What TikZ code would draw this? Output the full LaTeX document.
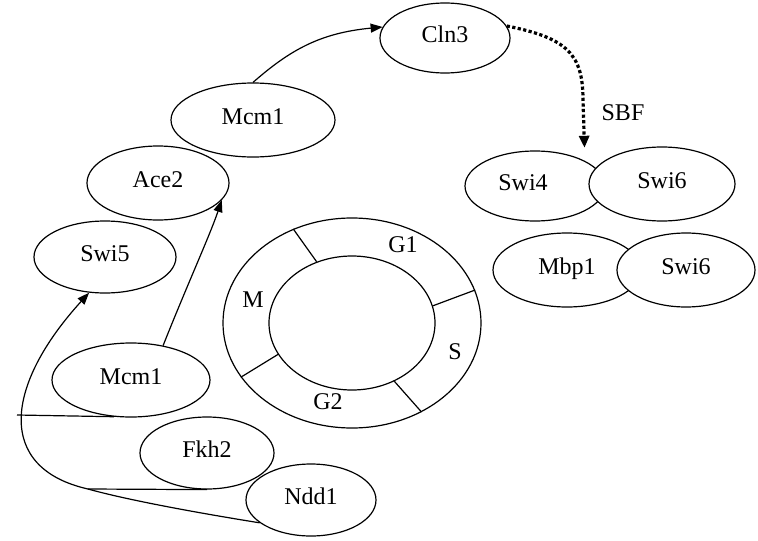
\documentclass[tikz,border=0pt]{standalone}
\usepackage{fontspec}
\setmainfont{Liberation Serif}
\usetikzlibrary{shapes.geometric,arrows.meta}
\begin{document}
\begin{tikzpicture}[x=1pt,y=-1pt,
  ent/.style={draw, ellipse, line width=1.2pt, inner sep=0pt, fill=white,
    text depth=7pt, font=\rmfamily\fontsize{24}{28}\selectfont},
  ring/.style={draw, ellipse, line width=1.2pt, inner sep=0pt},
  lbl/.style={font=\rmfamily\fontsize{24}{28}\selectfont, inner sep=0pt},
  arr/.style={line width=1.2pt, -{Triangle[length=12pt,width=9pt]}},
  dotarr/.style={line width=3.2pt, dash pattern=on 3.2pt off 2.4pt,
    -{Triangle[length=12pt,width=10pt]}},
  plain/.style={line width=1.2pt}]
\useasboundingbox (0,0) rectangle (758,541);

% cell cycle ring
\node[ring, minimum width=258pt, minimum height=210pt] (rout) at (352,323) {};
\node[ring, minimum width=166pt, minimum height=134pt] (rin) at (352,323) {};
\draw[plain] (rout.122) -- (rin.120);
\draw[plain] (rout.15) -- (rin.12);
\draw[plain] (rout.206) -- (rin.203);
\draw[plain] (rout.308) -- (rin.306);
\node[lbl] (g1) at (403,245) {G1};
\node[lbl] (m) at (253,300) {M};
\node[lbl] (s) at (455,352) {S};
\node[lbl] (g2) at (328,402) {G2};

% proteins
\node[ent, minimum width=130pt, minimum height=70pt] (cln) at (445,38) {Cln3};
\node[ent, minimum width=164pt, minimum height=74pt] (mcmA) at (253,120) {Mcm1};
\node[ent, minimum width=142pt, minimum height=74pt] (ace) at (158,183) {Ace2};
\node[ent, minimum width=142pt, minimum height=72pt] (swi5) at (105,257) {Swi5};
\node[ent, minimum width=158pt, minimum height=74pt] (mcmB) at (131,380) {Mcm1};
\node[ent, minimum width=134pt, minimum height=72pt] (fkh) at (207,453) {Fkh2};
\node[ent, minimum width=130pt, minimum height=72pt] (ndd) at (311,500) {Ndd1};

\node[ent, minimum width=140pt, minimum height=70pt] (swi4) at (535,186) {\hspace*{-24pt}Swi4};
\node[ent, minimum width=146pt, minimum height=74pt] (swi6a) at (662,184) {Swi6};
\node[ent, minimum width=148pt, minimum height=74pt] (mbp) at (567,270) {Mbp1};
\node[ent, minimum width=138pt, minimum height=74pt] (swi6b) at (686,270) {Swi6};

\node[lbl] (sbf) at (623,113) {SBF};

% connectors
\draw[arr] (mcmA.north) .. controls (290,50) and (320,33) .. (cln.170);
\draw[dotarr, shorten >=13pt] (cln.11) .. controls (568,38) and (583,55) .. (583,100) -- (swi4.north east);
\draw[arr] (mcmB.47) .. controls (188,283) and (210,235) .. (ace.-15);

\coordinate (j) at (88,489);
\coordinate (free) at (17,415);
\draw[arr] (ndd.204) .. controls (180,510) and (120,498) .. (j)
  .. controls (-5,468) and (5,385) .. (swi5.246);
\draw[plain] (j) -- (fkh.south);
\draw[plain] (free) -- (mcmB.245);
\end{tikzpicture}
\end{document}
